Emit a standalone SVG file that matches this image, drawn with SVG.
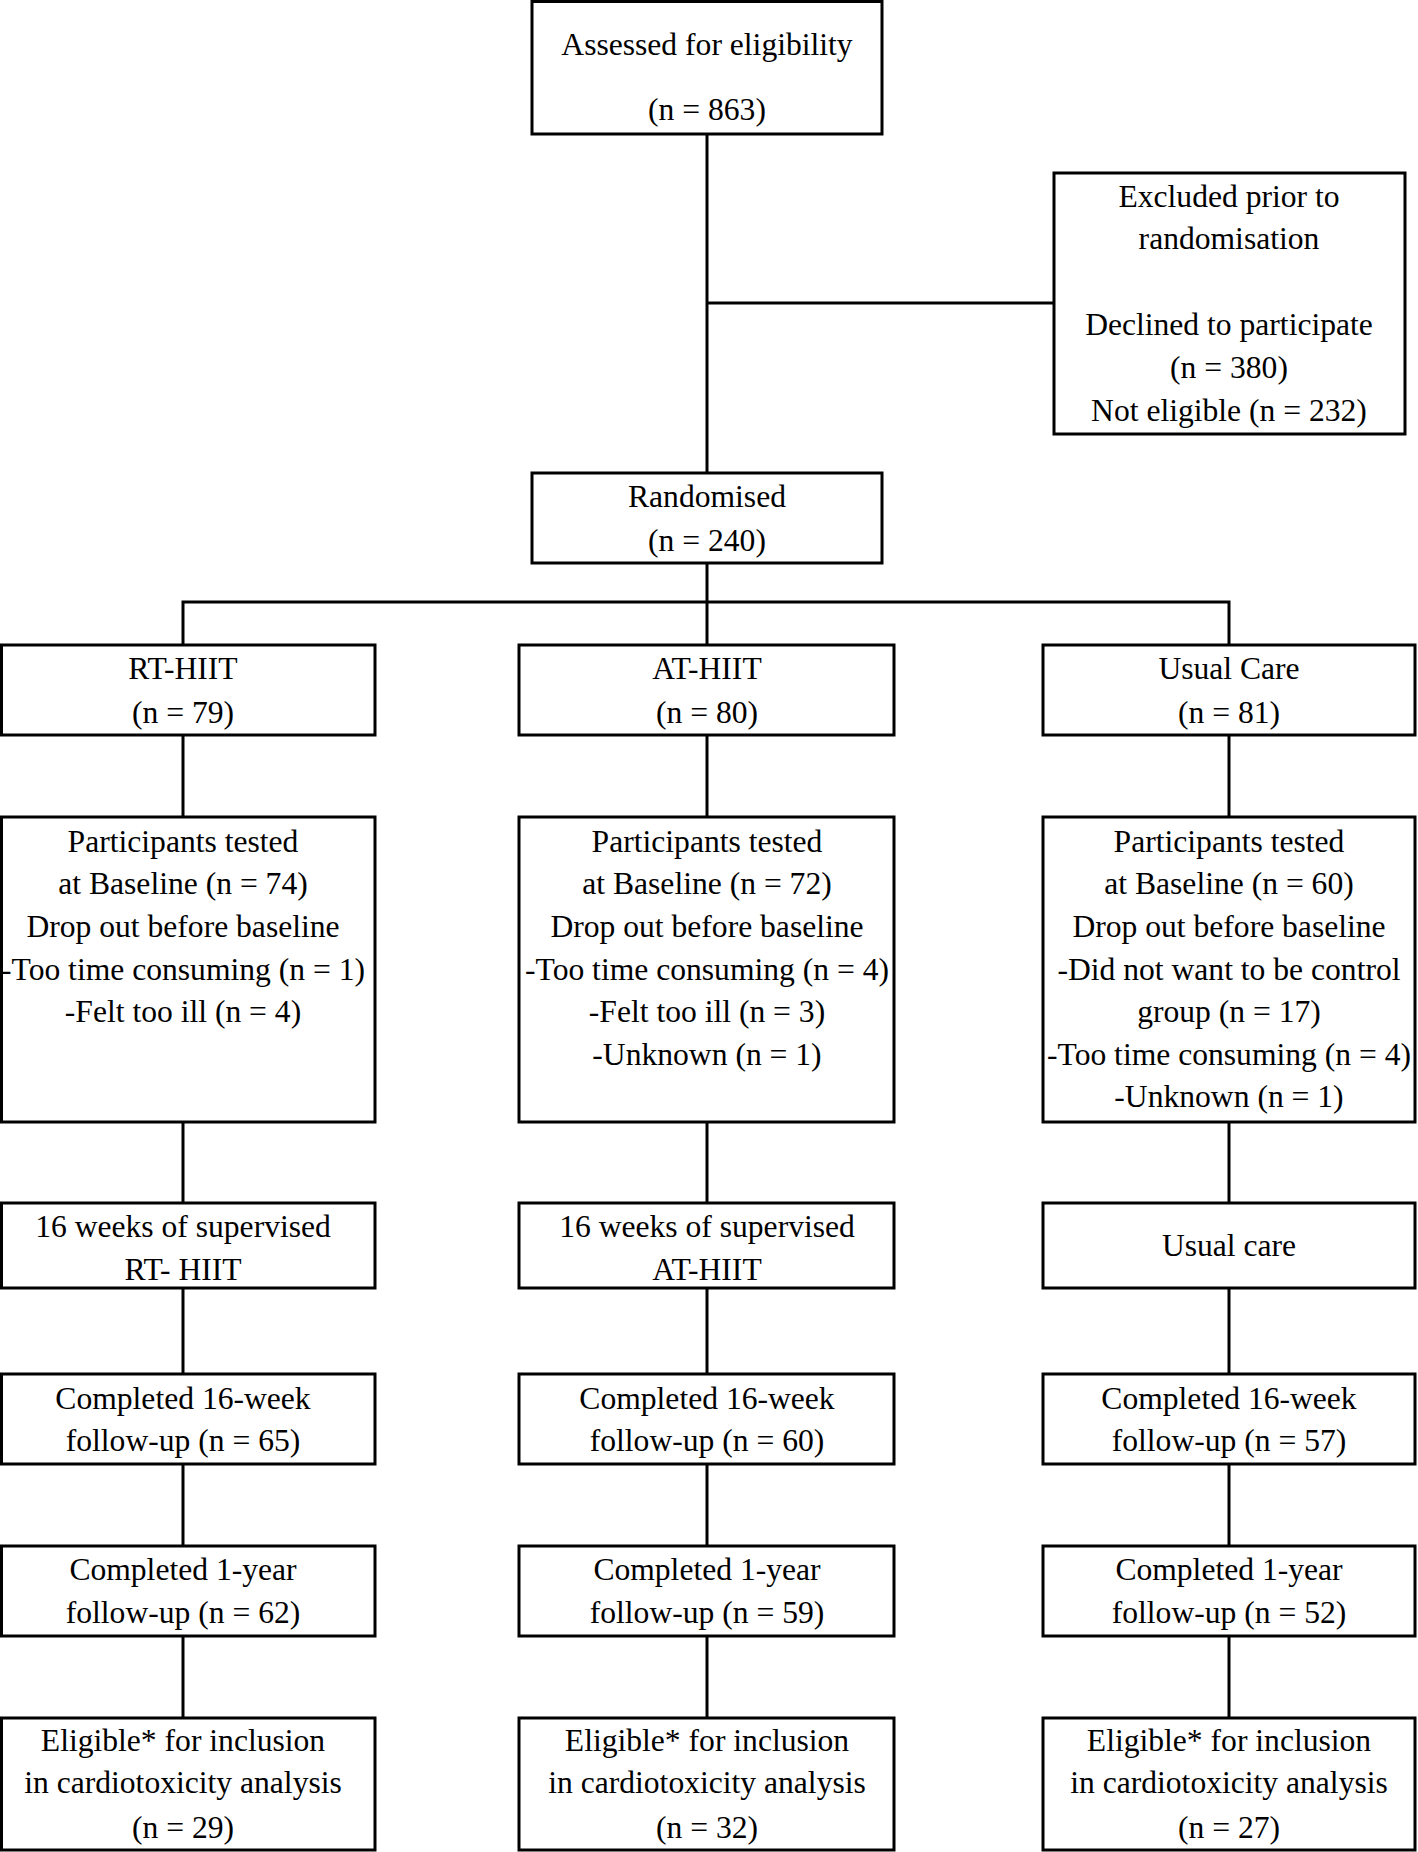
<svg xmlns="http://www.w3.org/2000/svg" width="1418" height="1852" viewBox="0 0 1418 1852">
<style>
.box{fill:#fff;stroke:#000;stroke-width:3}
.ln{stroke:#000;stroke-width:3;fill:none}
text{font-family:"Liberation Serif","Times New Roman",serif;font-size:31.6px;fill:#000;text-anchor:middle}
</style>
<rect width="1418" height="1852" fill="#fff"/>
<g id="connectors">
<path class="ln" d="M707 134V473"/>
<path class="ln" d="M707 303H1054"/>
<path class="ln" d="M707 563V645"/>
<path class="ln" d="M183 645V602H1229V645"/>
<path class="ln" d="M183 735V817M707 735V817M1229 735V817"/>
<path class="ln" d="M183 1122V1203M707 1122V1203M1229 1122V1203"/>
<path class="ln" d="M183 1288V1374M707 1288V1374M1229 1288V1374"/>
<path class="ln" d="M183 1464V1546M707 1464V1546M1229 1464V1546"/>
<path class="ln" d="M183 1636V1718M707 1636V1718M1229 1636V1718"/>
</g>
<g id="assessed"><rect class="box" x="532" y="1.5" width="350" height="132.5"/><text x="707" y="55">Assessed for eligibility</text><text x="707" y="120">(n = 863)</text></g>
<g id="excluded"><rect class="box" x="1054" y="173" width="351" height="261"/><text x="1229" y="207">Excluded prior to</text><text x="1229" y="249">randomisation</text><text x="1229" y="335">Declined to participate</text><text x="1229" y="378">(n = 380)</text><text x="1229" y="421">Not eligible (n = 232)</text></g>
<g id="randomised"><rect class="box" x="532" y="473" width="350" height="90"/><text x="707" y="507">Randomised</text><text x="707" y="551">(n = 240)</text></g>

<g id="rt-hiit"><rect class="box" x="1.5" y="645" width="373.5" height="90"/><text x="183" y="679">RT-HIIT</text><text x="183" y="723">(n = 79)</text></g>
<g id="at-hiit"><rect class="box" x="519" y="645" width="375" height="90"/><text x="707" y="679">AT-HIIT</text><text x="707" y="723">(n = 80)</text></g>
<g id="usual-care"><rect class="box" x="1043" y="645" width="372" height="90"/><text x="1229" y="679">Usual Care</text><text x="1229" y="723">(n = 81)</text></g>

<g id="baseline-rt"><rect class="box" x="1.5" y="817" width="373.5" height="305"/><text x="183" y="852">Participants tested</text><text x="183" y="894">at Baseline (n = 74)</text><text x="183" y="937">Drop out before baseline</text><text x="183" y="980">-Too time consuming (n = 1)</text><text x="183" y="1022">-Felt too ill (n = 4)</text></g>
<g id="baseline-at"><rect class="box" x="519" y="817" width="375" height="305"/><text x="707" y="852">Participants tested</text><text x="707" y="894">at Baseline (n = 72)</text><text x="707" y="937">Drop out before baseline</text><text x="707" y="980">-Too time consuming (n = 4)</text><text x="707" y="1022">-Felt too ill (n = 3)</text><text x="707" y="1065">-Unknown (n = 1)</text></g>
<g id="baseline-uc"><rect class="box" x="1043" y="817" width="372" height="305"/><text x="1229" y="852">Participants tested</text><text x="1229" y="894">at Baseline (n = 60)</text><text x="1229" y="937">Drop out before baseline</text><text x="1229" y="980">-Did not want to be control</text><text x="1229" y="1022">group (n = 17)</text><text x="1229" y="1065">-Too time consuming (n = 4)</text><text x="1229" y="1107">-Unknown (n = 1)</text></g>

<g id="intervention-rt"><rect class="box" x="1.5" y="1203" width="373.5" height="85"/><text x="183" y="1237">16 weeks of supervised</text><text x="183" y="1280">RT- HIIT</text></g>
<g id="intervention-at"><rect class="box" x="519" y="1203" width="375" height="85"/><text x="707" y="1237">16 weeks of supervised</text><text x="707" y="1280">AT-HIIT</text></g>
<g id="intervention-uc"><rect class="box" x="1043" y="1203" width="372" height="85"/><text x="1229" y="1256">Usual care</text></g>

<g id="fu16-rt"><rect class="box" x="1.5" y="1374" width="373.5" height="90"/><text x="183" y="1409">Completed 16-week</text><text x="183" y="1451">follow-up (n = 65)</text></g>
<g id="fu16-at"><rect class="box" x="519" y="1374" width="375" height="90"/><text x="707" y="1409">Completed 16-week</text><text x="707" y="1451">follow-up (n = 60)</text></g>
<g id="fu16-uc"><rect class="box" x="1043" y="1374" width="372" height="90"/><text x="1229" y="1409">Completed 16-week</text><text x="1229" y="1451">follow-up (n = 57)</text></g>

<g id="fu1y-rt"><rect class="box" x="1.5" y="1546" width="373.5" height="90"/><text x="183" y="1580">Completed 1-year</text><text x="183" y="1623">follow-up (n = 62)</text></g>
<g id="fu1y-at"><rect class="box" x="519" y="1546" width="375" height="90"/><text x="707" y="1580">Completed 1-year</text><text x="707" y="1623">follow-up (n = 59)</text></g>
<g id="fu1y-uc"><rect class="box" x="1043" y="1546" width="372" height="90"/><text x="1229" y="1580">Completed 1-year</text><text x="1229" y="1623">follow-up (n = 52)</text></g>

<g id="eligible-rt"><rect class="box" x="1.5" y="1718" width="373.5" height="132"/><text x="183" y="1751">Eligible* for inclusion</text><text x="183" y="1793">in cardiotoxicity analysis</text><text x="183" y="1838">(n = 29)</text></g>
<g id="eligible-at"><rect class="box" x="519" y="1718" width="375" height="132"/><text x="707" y="1751">Eligible* for inclusion</text><text x="707" y="1793">in cardiotoxicity analysis</text><text x="707" y="1838">(n = 32)</text></g>
<g id="eligible-uc"><rect class="box" x="1043" y="1718" width="372" height="132"/><text x="1229" y="1751">Eligible* for inclusion</text><text x="1229" y="1793">in cardiotoxicity analysis</text><text x="1229" y="1838">(n = 27)</text></g>
</svg>
